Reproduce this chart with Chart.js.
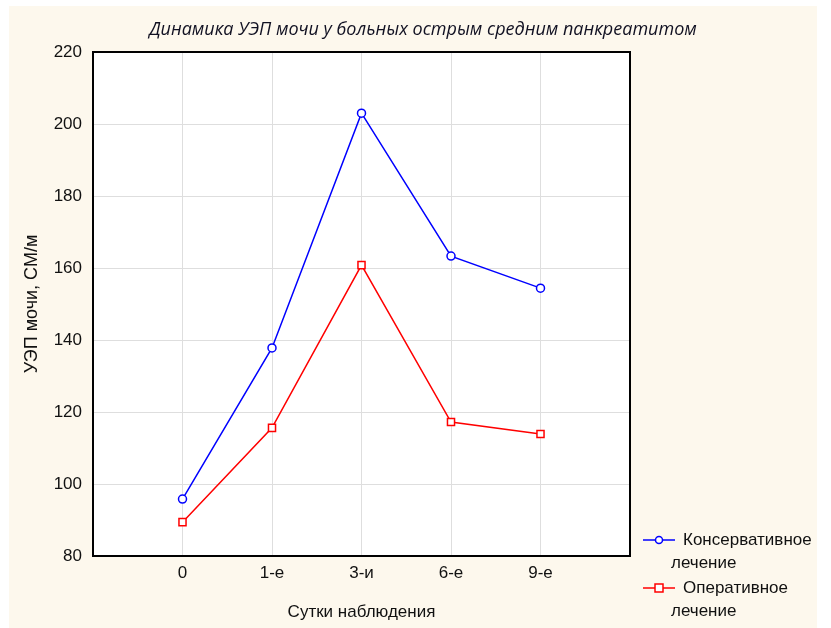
<!DOCTYPE html>
<html>
<head>
<meta charset="utf-8">
<script src="https://cdn.jsdelivr.net/npm/chart.js@4"></script>
<style>
  body { margin: 0; background: #ffffff; }
  #wrap { width: 831px; height: 628px; position: relative; }
</style>
</head>
<body>
<div id="wrap"><canvas id="myChart1" width="831" height="628"></canvas></div>
<script>
// data
var days = ['0', '1-е', '3-и', '6-е', '9-е'];
var conservative = [95.8, 137.8, 203.0, 163.3, 154.4];
var operative = [89.4, 115.6, 160.8, 117.2, 113.9];
var yTicks = [80, 100, 120, 140, 160, 180, 200, 220];
var seriesNames = [['Консервативное', 'лечение'], ['Оперативное', 'лечение']];

function toPoints(arr) {
  return arr.map(function (v, i) { return { x: i, y: v }; });
}

// cream background, white plot, frame, title and legend
var decor = {
  id: 'decor',
  beforeDraw: function (chart) {
    var ctx = chart.ctx;
    var a = chart.chartArea;
    ctx.save();
    ctx.fillStyle = '#fdf8ed';
    ctx.fillRect(9, 6, 808, 622);
    ctx.fillStyle = '#ffffff';
    ctx.fillRect(a.left, a.top, a.right - a.left, a.bottom - a.top);
    ctx.restore();
  },
  afterDraw: function (chart) {
    var ctx = chart.ctx;
    var a = chart.chartArea;
    ctx.save();
    ctx.strokeStyle = '#000000';
    ctx.lineWidth = 2;
    ctx.strokeRect(a.left, a.top, a.right - a.left, a.bottom - a.top);

    ctx.fillStyle = '#111122';
    ctx.font = 'italic 18px "Open Sans"';
    ctx.textAlign = 'center';
    ctx.textBaseline = 'middle';
    ctx.fillText('Динамика УЭП мочи у больных острым средним панкреатитом', 423, 30);

    // legend
    var rows = [
      { color: '#0000ff', style: 'circle', y: 540 },
      { color: '#ff0000', style: 'rect', y: 588 }
    ];
    ctx.font = '17px "Liberation Sans"';
    ctx.textAlign = 'left';
    rows.forEach(function (r, i) {
      ctx.strokeStyle = r.color;
      ctx.lineWidth = 1.5;
      ctx.beginPath();
      ctx.moveTo(643, r.y);
      ctx.lineTo(675, r.y);
      ctx.stroke();
      ctx.fillStyle = '#ffffff';
      ctx.beginPath();
      if (r.style === 'circle') {
        ctx.arc(659, r.y, 3.5, 0, Math.PI * 2);
      } else {
        ctx.rect(655, r.y - 4, 8, 8);
      }
      ctx.fill();
      ctx.stroke();
      ctx.fillStyle = '#111111';
      ctx.fillText(seriesNames[i][0], 683, r.y);
      ctx.fillText(seriesNames[i][1], 671, r.y + 23);
    });
    ctx.restore();
  }
};

var ctx = document.getElementById('myChart1').getContext('2d');
var myChart = new Chart(ctx, {
  type: 'line',
  data: {
    datasets: [{
      label: seriesNames[0].join(' '),
      data: toPoints(conservative),
      borderColor: '#0000ff',
      backgroundColor: '#ffffff',
      borderWidth: 1.5,
      pointStyle: 'circle',
      pointRadius: 4,
      pointBorderWidth: 1.5,
      tension: 0
    }, {
      label: seriesNames[1].join(' '),
      data: toPoints(operative),
      borderColor: '#ff0000',
      backgroundColor: '#ffffff',
      borderWidth: 1.5,
      pointStyle: 'rect',
      pointRadius: 5,
      pointBorderWidth: 1.5,
      tension: 0
    }]
  },
  options: {
    responsive: false,
    animation: false,
    layout: { padding: { top: 52, right: 201, left: 0, bottom: 0 } },
    plugins: {
      legend: { display: false },
      tooltip: { enabled: false }
    },
    scales: {
      x: {
        type: 'linear',
        min: -1,
        max: 5,
        afterFit: function (s) { s.height = 72; },
        afterBuildTicks: function (s) {
          s.ticks = days.map(function (d, i) { return { value: i }; });
        },
        ticks: {
          color: '#111111',
          font: { family: 'Liberation Sans', size: 17 },
          padding: 7,
          callback: function (v) { return days[v]; }
        },
        grid: { color: '#dedede', drawTicks: false },
        border: { color: '#000000', width: 2 },
        title: {
          display: true,
          text: 'Сутки наблюдения',
          color: '#111111',
          font: { family: 'Liberation Sans', size: 17 },
          padding: { top: 0, bottom: 5 }
        }
      },
      y: {
        min: 80,
        max: 220,
        afterFit: function (s) { s.width = 93; },
        afterBuildTicks: function (s) {
          s.ticks = yTicks.map(function (v) { return { value: v }; });
        },
        ticks: {
          color: '#111111',
          font: { family: 'Liberation Sans', size: 17 },
          padding: 11
        },
        grid: { color: '#dedede', drawTicks: false },
        border: { color: '#000000', width: 2 },
        title: {
          display: true,
          text: 'УЭП мочи, СМ/м',
          color: '#111111',
          font: { family: 'Liberation Sans', size: 18 },
          padding: { top: 21, bottom: 0 }
        }
      }
    }
  },
  plugins: [decor]
});
</script>
</body>
</html>
